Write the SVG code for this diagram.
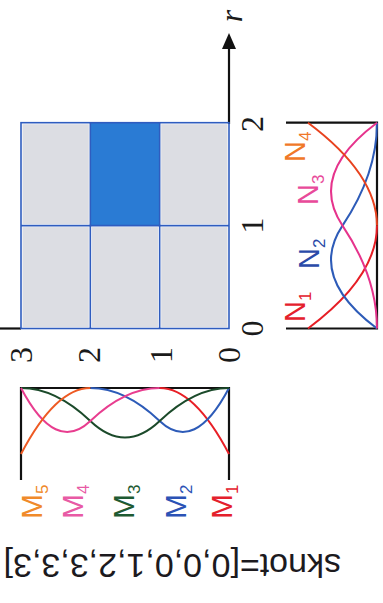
<svg xmlns="http://www.w3.org/2000/svg" width="383" height="603" viewBox="0 0 383 603">
<style>
.cell{fill:#dcdde3}
.gl{stroke:#2f5cbf;stroke-width:1.6;fill:none}
.ax{stroke:#111;stroke-width:2.2;fill:none}
.cv{fill:none;stroke-width:2}
.num{font-family:"Liberation Serif","Times New Roman",serif;font-size:32px;fill:#1a1a1a;text-anchor:middle}
.lab{font-family:"Liberation Sans",Arial,sans-serif;font-size:29px}
.mlab{font-family:"Liberation Sans",Arial,sans-serif;font-size:30px}
.sub{font-size:17px}
</style>
<rect width="383" height="603" fill="#fff"/>
<g id="grid">
<rect class="cell" x="22.5" y="124.2" width="66.3" height="99.9"/>
<rect x="90.33" y="122.7" width="69.34" height="102.9" fill="#2a7bd4"/>
<rect class="cell" x="161.2" y="124.2" width="66.3" height="99.9"/>
<rect class="cell" x="22.5" y="227.1" width="66.3" height="99.9"/>
<rect class="cell" x="91.8" y="227.1" width="66.3" height="99.9"/>
<rect class="cell" x="161.2" y="227.1" width="66.3" height="99.9"/>
</g>
<g id="axes">
<line class="ax" x1="229" y1="124" x2="229" y2="46"/>
<polygon points="229,33 222,49 236,49" fill="#111"/>
<line class="ax" x1="0" y1="328.5" x2="21" y2="328.5"/>
</g>
<g id="gridlines">
<rect class="gl" x="21" y="122.7" width="208" height="205.8"/>
<line class="gl" x1="90.33" y1="122.7" x2="90.33" y2="328.5"/>
<line class="gl" x1="159.67" y1="122.7" x2="159.67" y2="328.5"/>
<line class="gl" x1="21" y1="225.6" x2="229" y2="225.6"/>
</g>
<g id="axis-labels">
<text class="num" transform="translate(262.5,124) rotate(-90)">2</text>
<text class="num" transform="translate(263,225.6) rotate(-90)">1</text>
<text class="num" transform="translate(262.5,328.5) rotate(-90)">0</text>
<text class="num" transform="translate(31.5,355) rotate(-90)">3</text>
<text class="num" transform="translate(100,355) rotate(-90)">2</text>
<text class="num" transform="translate(171.5,355) rotate(-90)">1</text>
<text class="num" transform="translate(240,355) rotate(-90)">0</text>
<text class="num" font-style="italic" transform="translate(242,16) rotate(-90)">r</text>
</g>
<g id="n-plot">
<path class="ax" d="M286,122.7 H377 V328.5 H286"/>
<path class="cv" stroke="#e61e25" d="M308,328.5 Q377,277.05 377,225.6"/>
<path class="cv" stroke="#2d5bb8" d="M377,328.5 Q308,277.05 342.5,225.6 Q377,174.15 377,122.7"/>
<path class="cv" stroke="#e6338c" d="M377,328.5 Q377,277.05 342.5,225.6 Q308,174.15 377,122.7"/>
<path class="cv" stroke="#e8421e" d="M377,225.6 Q377,174.15 308,122.7"/>
</g>
<g id="n-labels">
<text class="lab" fill="#e4202c" transform="translate(305,322) rotate(-90)">N<tspan class="sub" dy="6">1</tspan></text>
<text class="lab" fill="#2a4aa8" transform="translate(319,269) rotate(-90)">N<tspan class="sub" dy="6">2</tspan></text>
<text class="lab" fill="#e84a9a" transform="translate(318,205) rotate(-90)">N<tspan class="sub" dy="6">3</tspan></text>
<text class="lab" fill="#f07828" transform="translate(305,162) rotate(-90)">N<tspan class="sub" dy="6">4</tspan></text>
</g>
<g id="m-plot">
<path class="ax" d="M21,480 V388 H229 V480"/>
<path class="cv" stroke="#e81f26" d="M229,454 Q194.33,388 159.67,388"/>
<path class="cv" stroke="#2d5bb8" d="M229,388 Q194.33,454 159.67,421 Q125,388 90.33,388"/>
<path class="cv" stroke="#1b4a2a" d="M229,388 Q194.33,388 159.67,421 Q125,454 90.33,421 Q55.67,388 21,388"/>
<path class="cv" stroke="#e83d8f" d="M159.67,388 Q125,388 90.33,421 Q55.67,454 21,388"/>
<path class="cv" stroke="#ee5a23" d="M90.33,388 Q55.67,388 21,454"/>
</g>
<g id="m-labels">
<text class="mlab" fill="#f08a2a" transform="translate(42,519) rotate(-90)">M<tspan class="sub" dy="6">5</tspan></text>
<text class="mlab" fill="#e85aa5" transform="translate(83,519) rotate(-90)">M<tspan class="sub" dy="6">4</tspan></text>
<text class="mlab" fill="#1e5a32" transform="translate(134,519) rotate(-90)">M<tspan class="sub" dy="6">3</tspan></text>
<text class="mlab" fill="#2b52b5" transform="translate(186,519) rotate(-90)">M<tspan class="sub" dy="6">2</tspan></text>
<text class="mlab" fill="#e4202c" transform="translate(232,519) rotate(-90)">M<tspan class="sub" dy="6">1</tspan></text>
</g>
<g id="knot-label">
<text font-family="Liberation Sans, Arial, sans-serif" font-size="34" fill="#1c1a1e" transform="translate(341,554) rotate(180)">sknot=[0,0,0,1,2,3,3,3]</text>
</g>
</svg>
